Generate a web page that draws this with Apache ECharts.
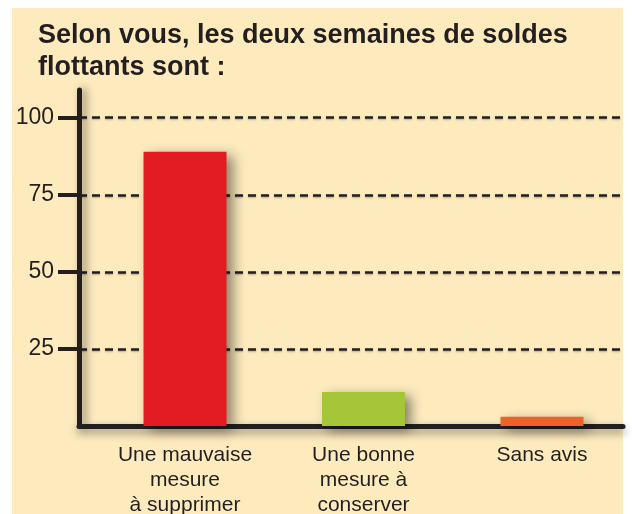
<!DOCTYPE html>
<html>
<head>
<meta charset="utf-8">
<script src="https://cdn.jsdelivr.net/npm/echarts@6/dist/echarts.min.js"></script>
<style>
  html, body { margin: 0; padding: 0; background: #ffffff; }
  #fond { position: absolute; left: 12px; top: 8px; width: 611px; height: 506px; background: #fdebbe; }
  #main { position: absolute; left: 0; top: 0; width: 632px; height: 514px; }
</style>
</head>
<body>
<div id="fond"></div>
<div id="main"></div>
<script>
// données du sondage
var categories = ['Une mauvaise\nmesure\nà supprimer', 'Une bonne\nmesure à\nconserver', 'Sans avis'];
var values = [89, 11, 3];
var barColors = ['#e31b23', '#a6c63a', '#ef6128'];
var yTicks = [25, 50, 75, 100];

var chart = echarts.init(document.getElementById('main'));
var ink = '#231f20';
var font = '"Liberation Sans", Arial, sans-serif';

//axe x numérique (index des catégories) pour que les pointillés partent de l'axe vertical
var catIdx = categories.map(function (c, i) { return i; });

chart.setOption({
    animation: false,
    title: {
        text: 'Selon vous, les deux semaines de soldes\nflottants sont :',
        left: 33,
        top: 15,
        textStyle: { fontFamily: font, fontSize: 27, fontWeight: 'bold', color: ink, lineHeight: 32 }
    },
    grid: { left: 79, right: 9, top: 90, bottom: 88, outerBoundsMode: 'none' },
    xAxis: {
        type: 'value',
        min: -0.594,
        max: 2.454,
        splitLine: { show: false },
        axisLine: { show: true, onZero: false, lineStyle: { color: ink, width: 5, shadowBlur: 8, shadowColor: 'rgba(0,0,0,0.45)', shadowOffsetY: 4 } },
        axisTick: { show: false },
        axisLabel: {
            fontFamily: font, fontSize: 21, color: ink, lineHeight: 25, margin: 17,
            customValues: catIdx,
            formatter: function (v) { return categories[Math.round(v)]; }
        }
    },
    yAxis: {
        type: 'value',
        min: 0,
        max: 109,
        interval: 25,
        axisLine: { show: true, onZero: false, lineStyle: { color: ink, width: 5, shadowBlur: 8, shadowColor: 'rgba(0,0,0,0.45)', shadowOffsetX: 4 } },
        axisTick: { show: true, length: 21, customValues: yTicks, lineStyle: { color: ink, width: 4 } },
        axisLabel: { fontFamily: font, fontSize: 23, color: ink, margin: 25, customValues: yTicks },
        splitLine: {
            show: true,
            lineStyle: { color: ink, width: 2.5, type: [8, 5], shadowBlur: 2, shadowColor: 'rgba(0,0,0,0.3)', shadowOffsetY: 1 }
        }
    },
    series: [{
        type: 'bar',
        barWidth: 83,
        data: values.map(function (v, i) {
            return { value: [catIdx[i], v], itemStyle: { color: barColors[i] } };
        }),
        itemStyle: { shadowBlur: 12, shadowColor: 'rgba(0,0,0,0.45)', shadowOffsetX: 6, shadowOffsetY: 4 }
    }]
});
</script>
</body>
</html>
